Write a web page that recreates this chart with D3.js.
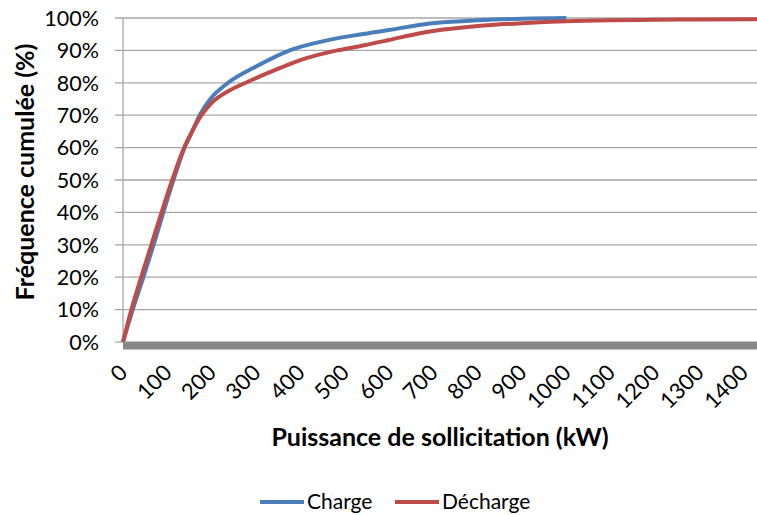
<!DOCTYPE html>
<html>
<head>
<meta charset="utf-8">
<script src="https://cdn.jsdelivr.net/npm/d3@7"></script>
<style>
  html, body { margin: 0; padding: 0; background: #fff; }
  svg { display: block; font-family: Lato, "Noto Sans", sans-serif; }
</style>
</head>
<body>
<svg id="chart" width="757" height="515"></svg>
<script>
// Cumulative frequency (%) of requested power (kW)
const chargeKW    = [0, 22, 46, 69, 91, 114, 139, 156, 173, 197, 237, 300, 376, 450, 534, 600, 692, 800, 900, 1000];
const chargePct   = [0, 10, 20, 30, 40, 50, 60, 65, 70, 75, 80, 85, 90, 92.8, 94.9, 96.3, 98.3, 99.3, 99.8, 100];
const dechargeKW  = [0, 19, 41, 64, 87, 111, 138, 156, 177, 200, 240, 283, 330, 376, 400, 483, 534, 600, 670, 700, 800, 900, 1000, 1100, 1200, 1300, 1430];
const dechargePct = [0, 10, 20, 30, 40, 50, 60, 65, 70, 73.8, 77.6, 80.4, 83.2, 85.8, 87, 90, 91.3, 93.2, 95.3, 96, 97.5, 98.4, 99, 99.3, 99.45, 99.55, 99.6];

const xTicks = [0, 100, 200, 300, 400, 500, 600, 700, 800, 900, 1000, 1100, 1200, 1300, 1400];
const yTicks = [0, 10, 20, 30, 40, 50, 60, 70, 80, 90, 100];

const seriesNames  = ["Charge", "Décharge"];
const seriesColors = ["#4a7ebb", "#be4b48"];

const svg = d3.select("#chart");
const plot = { left: 123, right: 757, top: 18, bottom: 342 };

const x = d3.scaleLinear().domain([0, 1430]).range([plot.left, plot.right]);
const y = d3.scaleLinear().domain([0, 100]).range([plot.bottom, plot.top]);

// horizontal gridlines with left tick marks
svg.append("g")
  .selectAll("line")
  .data(yTicks.filter(d => d > 0))
  .join("line")
  .attr("x1", plot.left - 8).attr("x2", plot.right)
  .attr("y1", d => y(d)).attr("y2", d => y(d))
  .attr("stroke", "#a6a6a6").attr("stroke-width", 1.3);

// zero tick
svg.append("line")
  .attr("x1", plot.left - 8).attr("x2", plot.left)
  .attr("y1", y(0)).attr("y2", y(0))
  .attr("stroke", "#a6a6a6").attr("stroke-width", 1.3);

// vertical axis line
svg.append("line")
  .attr("x1", plot.left).attr("x2", plot.left)
  .attr("y1", y(100)).attr("y2", y(0))
  .attr("stroke", "#a6a6a6").attr("stroke-width", 1.3);

// y tick labels
svg.append("g")
  .selectAll("text")
  .data(yTicks)
  .join("text")
  .attr("x", 99).attr("y", d => y(d))
  .attr("dy", "0.36em")
  .attr("text-anchor", "end")
  .attr("font-size", 21.5)
  .attr("fill", "#000")
  .text(d => d + "%");

// x tick labels, rotated
svg.append("g")
  .selectAll("text")
  .data(xTicks)
  .join("text")
  .attr("transform", d => `translate(${x(d) - 5},${363}) rotate(-45)`)
  .attr("text-anchor", "end")
  .attr("dy", "0.7em")
  .attr("font-size", 22)
  .attr("fill", "#000")
  .text(d => d);

// series lines
const line = d3.line()
  .x(d => x(d[0]))
  .y(d => y(d[1]))
  .curve(d3.curveMonotoneX);

const seriesData = [
  d3.zip(chargeKW, chargePct),
  d3.zip(dechargeKW, dechargePct)
];

svg.append("g")
  .selectAll("path")
  .data(seriesData)
  .join("path")
  .attr("d", line)
  .attr("fill", "none")
  .attr("stroke", (d, i) => seriesColors[i])
  .attr("stroke-width", 4)
  .attr("stroke-linejoin", "round");

// thick horizontal axis
svg.append("line")
  .attr("x1", plot.left).attr("x2", plot.right)
  .attr("y1", y(0) + 3.5).attr("y2", y(0) + 3.5)
  .attr("stroke", "#888").attr("stroke-width", 8);

// axis titles
svg.append("text")
  .attr("x", (plot.left + plot.right) / 2).attr("y", 446)
  .attr("text-anchor", "middle")
  .attr("font-size", 25).attr("font-weight", "bold")
  .attr("fill", "#000")
  .text("Puissance de sollicitation (kW)");

svg.append("text")
  .attr("transform", `translate(34,172) rotate(-90)`)
  .attr("text-anchor", "middle")
  .attr("font-size", 25).attr("font-weight", "bold")
  .attr("fill", "#000")
  .text("Fréquence cumulée (%)");

// legend
const legendX = [260, 395];
const legend = svg.append("g")
  .selectAll("g")
  .data(seriesNames)
  .join("g")
  .attr("transform", (d, i) => `translate(${legendX[i]},502)`);

legend.append("line")
  .attr("x1", 0).attr("x2", 44)
  .attr("stroke", (d, i) => seriesColors[i])
  .attr("stroke-width", 4);

legend.append("text")
  .attr("x", 47).attr("dy", "0.35em")
  .attr("font-size", 21)
  .attr("fill", "#000")
  .text(d => d);
</script>
</body>
</html>
